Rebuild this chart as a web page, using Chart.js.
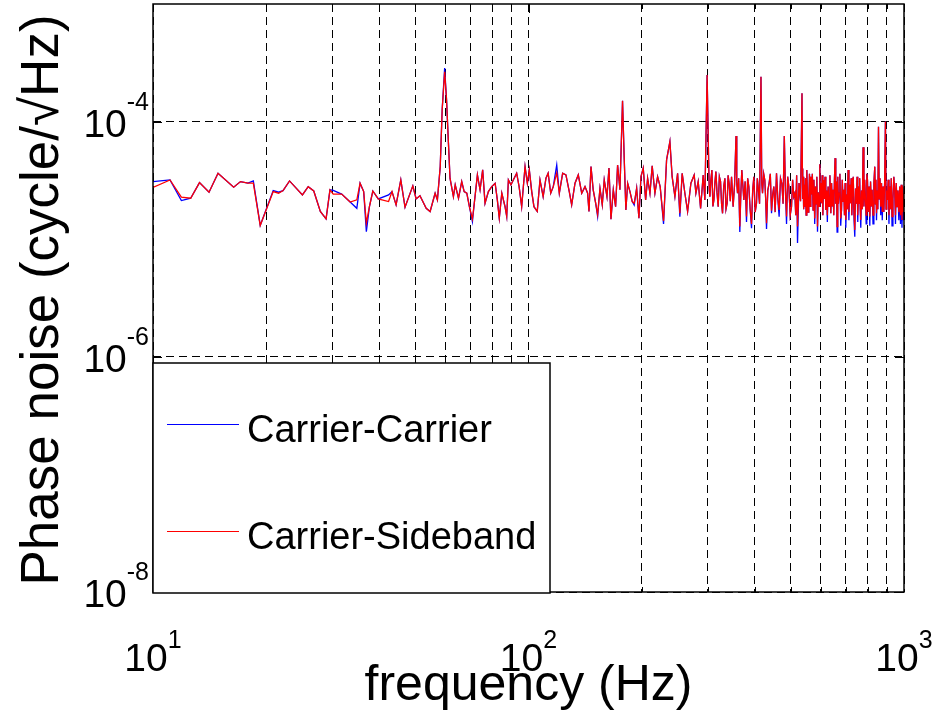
<!DOCTYPE html>
<html>
<head>
<meta charset="utf-8">
<script src="https://cdn.jsdelivr.net/npm/chart.js@4.4.1/dist/chart.umd.min.js"></script>
<style>
  html, body { margin: 0; padding: 0; background: #fff; }
  canvas { display: block; }
</style>
</head>
<body>
<canvas id="noiseChart" width="937" height="720"></canvas>
<script>
// frequency points (Hz)
const frequency = [
  10.0, 11.1, 11.9, 12.6, 13.3, 14.1, 14.9, 16.4, 17.1, 17.9,
  18.5, 19.3, 20.9, 21.6, 22.2, 23.1, 25.0, 25.9, 26.8, 27.9,
  28.9, 29.6, 30.2, 31.8, 33.5, 34.9, 35.6, 36.4, 37.0, 37.7,
  38.5, 39.8, 42.4, 43.3, 44.4, 45.7, 46.9, 49.2, 50.2, 51.4,
  53.4, 54.7, 56.4, 57.2, 58.2, 58.9, 59.8, 60.5, 61.2, 61.8,
  63.1, 63.8, 65.1, 66.4, 67.4, 68.5, 69.6, 70.9, 71.8, 73.1,
  74.3, 75.5, 76.6, 78.2, 79.8, 81.5, 82.6, 83.6, 84.9, 86.6,
  87.5, 88.4, 89.8, 91.1, 93.0, 94.4, 95.9, 97.9, 99.3, 100.5,
  102.0, 103.4, 105.5, 107.3, 109.4, 111.3, 112.8, 114.6, 116.4, 118.9,
  120.8, 123.3, 125.8, 128.4, 130.3, 133.0, 135.7, 138.6, 141.4, 143.7,
  144.9, 146.7, 148.7, 151.0, 152.8, 155.0, 157.2, 159.1, 161.8, 163.8,
  165.8, 168.2, 170.6, 172.7, 175.2, 178.0, 179.9, 181.7, 183.7, 186.3,
  188.9, 191.2, 194.1, 196.8, 199.3, 202.1, 205.1, 207.6, 210.6, 213.5,
  217.1, 220.7, 224.2, 228.9, 233.2, 238.0, 241.3, 245.4, 249.5, 253.0,
  256.6, 260.9, 265.3, 270.7, 276.2, 279.1, 283.1, 287.3, 291.9, 294.9,
  299.0, 302.0, 303.0, 304.1, 306.0, 307.9, 309.8, 311.7, 313.6, 315.5,
  317.7, 320.0, 322.3, 324.7, 326.7, 328.7, 331.0, 333.4, 335.7, 338.1,
  340.1, 342.2, 344.7, 347.3, 349.0, 350.7, 353.8, 357.0, 358.6, 360.3,
  362.8, 365.4, 367.6, 369.9, 372.2, 374.5, 377.6, 380.7, 383.4, 386.1,
  389.3, 392.6, 395.4, 398.2, 401.5, 404.8, 406.8, 408.8, 412.4, 416.0,
  418.0, 420.0, 423.0, 425.9, 428.2, 430.4, 433.8, 437.3, 440.5, 443.8,
  447.0, 450.1, 453.8, 457.6, 461.3, 465.0, 468.9, 472.8, 476.4, 480.0,
  483.3, 486.6, 490.0, 493.5, 497.6, 501.7, 505.1, 508.6, 512.0, 514.8,
  517.7, 520.5, 525.3, 530.2, 535.0, 536.2, 537.4, 538.6, 540.5, 542.4,
  544.3, 546.5, 548.8, 551.0, 553.3, 555.5, 557.8, 560.1, 562.4, 564.7,
  567.4, 570.0, 572.7, 575.5, 578.4, 581.2, 583.6, 586.0, 588.4, 591.2,
  594.0, 596.8, 598.9, 600.9, 603.0, 605.5, 608.0, 610.5, 613.4, 616.2,
  619.1, 622.0, 625.0, 627.9, 631.4, 634.9, 638.4, 641.4, 644.4, 647.4,
  650.1, 652.7, 655.4, 658.1, 660.8, 663.5, 666.2, 669.0, 671.7, 675.0,
  678.4, 681.7, 684.9, 688.1, 691.3, 694.2, 697.0, 699.9, 703.2, 706.5,
  709.8, 713.3, 716.8, 720.3, 723.3, 726.2, 729.2, 732.6, 736.1, 739.5,
  743.0, 746.5, 750.0, 753.1, 756.2, 759.3, 762.0, 764.6, 767.2, 770.8,
  774.5, 778.1, 782.0, 785.8, 789.7, 792.9, 796.2, 799.4, 803.2, 807.0,
  810.8, 814.6, 818.5, 822.3, 826.9, 831.4, 836.0, 838.9, 841.9, 844.8,
  848.3, 851.7, 855.2, 859.1, 863.1, 867.0, 871.1, 875.2, 879.3, 883.7,
  888.0, 892.4, 896.1, 899.7, 903.4, 907.7, 911.9, 916.2, 920.5, 924.9,
  929.2, 934.4, 939.5, 944.7, 949.1, 953.6, 958.0, 963.3, 968.7, 974.0,
  978.6, 983.2, 987.8, 992.5, 996.3, 1000
];

// phase noise, in units of 1e-5 cycle/sqrt(Hz)
const carrierCarrier = [
  3.09, 3.19, 2.13, 2.23, 3.03, 2.51, 3.64, 2.77, 3.09, 3.00,
  3.13, 1.31, 2.59, 2.51, 2.59, 3.13, 2.38, 2.80, 2.57, 1.72,
  1.49, 2.63, 2.60, 2.42, 2.07, 1.83, 2.99, 2.54, 1.16, 1.89,
  2.57, 2.20, 2.38, 2.54, 1.96, 3.19, 1.87, 2.84, 2.20, 2.34,
  1.83, 1.72, 2.46, 2.16, 4.14, 12.6, 28.5, 15.3, 6.59, 3.30,
  2.30, 2.90, 2.23, 3.09, 2.54, 2.46, 1.89, 1.41, 2.09, 3.52,
  2.63, 3.89, 2.02, 2.54, 2.80, 2.99, 2.16, 1.51, 2.46, 1.89,
  1.56, 3.19, 2.90, 3.19, 3.64, 2.80, 1.89, 4.14, 2.99, 3.89,
  2.54, 1.89, 1.72, 3.19, 2.30, 3.30, 3.64, 2.46, 2.80, 4.28,
  2.46, 3.64, 3.52, 2.54, 1.96, 2.99, 3.52, 2.46, 2.80, 2.46,
  1.72, 4.14, 2.63, 2.02, 1.56, 2.71, 1.96, 3.19, 2.30, 4.02,
  1.48, 2.63, 1.89, 4.28, 2.63, 15.0, 4.72, 1.77, 2.99, 2.54,
  2.09, 1.95, 2.71, 1.51, 3.40, 4.02, 2.16, 3.30, 2.46, 4.20,
  2.46, 3.40, 2.80, 1.35, 4.72, 6.76, 3.40, 2.30, 3.64, 1.55,
  3.64, 2.46, 1.72, 2.99, 3.52, 2.46, 3.09, 1.83, 3.52, 2.16,
  24.9, 4.14, 2.60, 2.30, 3.20, 3.88, 1.90, 2.16, 3.00, 3.76,
  2.50, 1.89, 3.40, 3.09, 2.00, 1.66, 2.80, 3.30, 1.80, 2.02,
  3.50, 2.99, 2.10, 3.40, 2.60, 1.89, 2.90, 7.55, 3.00, 2.46,
  3.30, 1.15, 2.40, 3.88, 2.90, 2.16, 3.10, 1.40, 3.30, 2.80,
  1.80, 1.24, 2.60, 3.40, 1.70, 2.02, 3.30, 2.80, 2.00, 24.1,
  3.00, 2.46, 3.60, 3.19, 2.20, 1.22, 2.60, 2.99, 3.60, 1.66,
  2.40, 2.80, 1.70, 3.64, 2.20, 1.55, 3.30, 2.99, 2.00, 7.55,
  2.60, 1.35, 3.40, 2.80, 1.60, 1.89, 3.20, 2.30, 2.46, 1.60,
  3.50, 0.93, 3.00, 2.10, 17.4, 4.00, 2.20, 3.40, 1.80, 2.90,
  1.89, 3.30, 1.60, 3.88, 2.30, 1.70, 2.16, 3.60, 1.90, 3.40,
  2.40, 3.60, 1.77, 3.20, 1.35, 2.80, 2.00, 3.40, 1.16, 2.50,
  1.90, 4.34, 2.10, 3.00, 2.02, 3.50, 1.60, 3.19, 2.20, 3.40,
  1.77, 2.60, 1.40, 2.80, 1.90, 3.50, 1.66, 3.00, 1.90, 2.63,
  1.60, 3.20, 4.89, 2.00, 3.10, 1.15, 3.40, 2.00, 2.46, 3.60,
  1.30, 1.77, 3.20, 2.10, 2.63, 1.60, 3.00, 1.25, 2.40, 1.80,
  3.88, 1.45, 2.90, 2.02, 3.30, 1.60, 2.63, 3.40, 1.45, 1.05,
  2.70, 2.00, 3.40, 1.40, 2.80, 2.02, 3.30, 1.80, 1.25, 2.60,
  1.80, 6.06, 1.90, 3.20, 2.16, 1.35, 3.60, 3.19, 1.70, 2.80,
  1.30, 3.10, 1.90, 2.63, 1.35, 3.00, 4.14, 2.00, 3.20, 1.45,
  2.60, 1.80, 9.02, 2.20, 3.30, 1.60, 3.00, 1.45, 2.80, 1.70,
  3.00, 10.0, 1.80, 2.60, 2.16, 3.20, 1.35, 2.80, 1.80, 3.30,
  1.30, 2.20, 3.40, 2.63, 1.35, 3.00, 1.89, 2.60, 1.45, 2.80,
  1.35, 2.90, 1.25, 2.80, 1.45, 2.46
];

const carrierSideband = [
  2.76, 3.19, 2.28, 2.23, 3.03, 2.51, 3.64, 2.77, 3.09, 3.00,
  3.00, 1.31, 2.54, 2.46, 2.59, 3.13, 2.38, 2.80, 2.57, 1.72,
  1.49, 2.63, 2.42, 2.42, 2.07, 2.16, 2.99, 2.54, 1.37, 1.89,
  2.57, 2.20, 2.09, 2.54, 1.96, 3.19, 1.87, 2.84, 2.20, 2.34,
  1.83, 1.72, 2.46, 2.16, 4.14, 12.6, 26.5, 15.3, 6.59, 3.30,
  2.30, 2.90, 2.23, 3.09, 2.54, 2.46, 1.89, 1.48, 2.09, 3.52,
  2.63, 3.89, 2.02, 2.54, 2.80, 2.99, 2.16, 1.51, 2.46, 1.89,
  1.56, 3.19, 2.90, 3.19, 3.64, 2.80, 1.89, 4.14, 2.99, 3.89,
  2.54, 1.89, 1.72, 3.19, 2.30, 3.30, 3.64, 2.46, 2.80, 3.66,
  2.46, 3.64, 3.52, 2.54, 1.96, 2.99, 3.52, 2.46, 2.80, 2.46,
  1.72, 4.14, 2.63, 2.02, 1.62, 2.71, 1.96, 3.19, 2.30, 4.02,
  1.48, 2.63, 1.89, 4.28, 2.63, 15.0, 4.72, 1.77, 2.99, 2.54,
  2.09, 2.02, 2.71, 1.51, 3.40, 4.02, 2.16, 3.30, 2.46, 4.20,
  2.46, 3.40, 2.80, 1.43, 4.72, 6.76, 3.40, 2.30, 3.64, 1.66,
  3.64, 2.46, 1.72, 2.99, 3.52, 2.46, 3.09, 1.83, 3.52, 2.16,
  24.9, 4.14, 2.60, 2.30, 3.20, 3.88, 1.90, 2.16, 3.00, 3.76,
  2.50, 1.89, 3.40, 3.09, 2.00, 1.66, 2.80, 3.30, 1.80, 2.02,
  3.50, 2.99, 2.10, 3.40, 2.60, 1.89, 2.90, 7.55, 3.00, 2.46,
  3.30, 1.28, 2.40, 3.88, 2.90, 2.16, 3.10, 1.56, 3.30, 2.80,
  1.80, 1.35, 2.60, 3.40, 1.70, 2.02, 3.30, 2.80, 2.00, 24.1,
  3.00, 2.46, 3.60, 3.19, 2.20, 1.37, 2.60, 2.99, 3.60, 1.75,
  2.40, 2.80, 1.70, 3.64, 2.20, 1.77, 3.30, 2.99, 2.00, 7.55,
  2.60, 1.56, 3.40, 2.80, 1.60, 1.89, 3.20, 2.30, 2.46, 1.60,
  3.50, 1.28, 3.00, 2.10, 17.4, 4.00, 2.20, 3.40, 1.80, 2.90,
  1.89, 3.30, 1.60, 3.88, 2.30, 1.70, 2.16, 3.60, 1.90, 3.40,
  2.40, 3.60, 1.77, 3.20, 1.50, 2.80, 2.00, 3.40, 1.28, 2.50,
  1.90, 4.34, 2.10, 3.00, 2.02, 3.50, 1.60, 3.19, 2.20, 3.40,
  1.77, 2.60, 1.60, 2.80, 1.90, 3.50, 1.66, 3.00, 1.90, 2.63,
  1.60, 3.20, 4.89, 2.00, 3.10, 1.28, 3.40, 2.00, 2.46, 3.60,
  1.50, 1.77, 3.20, 2.10, 2.63, 1.60, 3.00, 1.46, 2.40, 1.80,
  3.88, 1.70, 2.90, 2.02, 3.30, 1.60, 2.63, 3.40, 1.70, 1.20,
  2.70, 2.00, 3.40, 1.60, 2.80, 2.02, 3.30, 1.80, 1.46, 2.60,
  1.80, 6.06, 1.90, 3.20, 2.16, 1.60, 3.60, 3.19, 1.70, 2.80,
  1.56, 3.10, 1.90, 2.63, 1.60, 3.00, 4.14, 2.00, 3.20, 1.66,
  2.60, 1.80, 9.02, 2.20, 3.30, 1.89, 3.00, 1.70, 2.80, 1.70,
  3.00, 10.0, 1.80, 2.60, 2.16, 3.20, 1.60, 2.80, 1.80, 3.30,
  1.56, 2.20, 3.40, 2.63, 1.60, 3.00, 1.89, 2.60, 1.70, 2.80,
  1.60, 2.90, 1.46, 2.80, 1.70, 2.46
];
const noiseUnit = 1e-5;

const xGridValues = [10, 20, 30, 40, 50, 60, 70, 80, 90, 100,
                     200, 300, 400, 500, 600, 700, 800, 900, 1000];
const xTickValues = [10, 100, 1000];
const xTickExponents = ["1", "2", "3"];
const yTickValues = [1e-8, 1e-6, 1e-4];
const yTickExponents = ["-8", "-6", "-4"];

const FONT = "'Liberation Sans', Arial, Helvetica, sans-serif";

function toPoints(vals) {
  return frequency.map((f, i) => ({ x: f, y: vals[i] * noiseUnit }));
}

const decorations = {
  id: "decorations",
  afterDraw(chart) {
    const { ctx, chartArea: a, scales: { x, y } } = chart;
    ctx.save();

    // inward tick marks
    ctx.strokeStyle = "#000";
    ctx.lineWidth = 1;
    ctx.beginPath();
    xGridValues.forEach(v => {
      if (v === 10 || v === 1000) return;
      const px = Math.round(x.getPixelForValue(v)) + 0.5;
      const len = xTickValues.includes(v) ? 9 : 5;
      ctx.moveTo(px, a.bottom); ctx.lineTo(px, a.bottom - len);
      ctx.moveTo(px, a.top); ctx.lineTo(px, a.top + len);
    });
    yTickValues.forEach(v => {
      const py = Math.round(y.getPixelForValue(v)) + 0.5;
      ctx.moveTo(a.left, py); ctx.lineTo(a.left + 9, py);
      ctx.moveTo(a.right, py); ctx.lineTo(a.right - 9, py);
    });
    ctx.stroke();

    // axes box
    ctx.lineWidth = 1.5;
    ctx.strokeRect(a.left, a.top, a.right - a.left, a.bottom - a.top);

    // tick labels 10^n
    ctx.fillStyle = "#000";
    const baseFont = "39px " + FONT, expFont = "25px " + FONT;
    xTickValues.forEach((v, i) => {
      const px = x.getPixelForValue(v);
      ctx.font = baseFont;
      const wb = ctx.measureText("10").width;
      ctx.font = expFont;
      const we = ctx.measureText(xTickExponents[i]).width;
      const x0 = px - (wb + we) / 2;
      ctx.font = baseFont;
      ctx.textAlign = "left";
      ctx.fillText("10", x0, 671);
      ctx.font = expFont;
      ctx.fillText(xTickExponents[i], x0 + wb, 648);
    });
    yTickValues.forEach((v, i) => {
      const py = y.getPixelForValue(v);
      ctx.font = expFont;
      const we = ctx.measureText(yTickExponents[i]).width;
      ctx.textAlign = "right";
      ctx.fillText(yTickExponents[i], 149, py - 12);
      ctx.font = baseFont;
      ctx.fillText("10", 149 - we, py + 15);
    });

    // axis titles
    ctx.font = "50px " + FONT;
    ctx.textAlign = "center";
    ctx.fillText("frequency (Hz)", (a.left + a.right) / 2, 700);
    ctx.save();
    ctx.translate(58, 300);
    ctx.rotate(-Math.PI / 2);
    ctx.font = "53px " + FONT;
    ctx.fillText("Phase noise (cycle/\u221AHz)", 0, 0);
    ctx.restore();

    // legend box
    const lg = { left: 153, top: 363, right: 550, bottom: 593 };
    ctx.fillStyle = "#fff";
    ctx.fillRect(lg.left, lg.top, lg.right - lg.left, lg.bottom - lg.top);
    ctx.strokeStyle = "#000";
    ctx.lineWidth = 1.5;
    ctx.strokeRect(lg.left, lg.top, lg.right - lg.left, lg.bottom - lg.top);
    const rows = [424.5, 531.5];
    chart.data.datasets.forEach((ds, i) => {
      ctx.strokeStyle = ds.borderColor;
      ctx.lineWidth = 1.2;
      ctx.beginPath();
      ctx.moveTo(167, rows[i]); ctx.lineTo(239, rows[i]);
      ctx.stroke();
      ctx.fillStyle = "#000";
      ctx.font = "38px " + FONT;
      ctx.textAlign = "left";
      ctx.fillText(ds.label, 247, rows[i] + 17);
    });
    ctx.restore();
  }
};

const ctxNoise = document.getElementById("noiseChart").getContext("2d");

const noiseChart = new Chart(ctxNoise, {
  type: "line",
  data: {
    datasets: [
      {
        label: "Carrier-Carrier",
        data: toPoints(carrierCarrier),
        borderColor: "#0000ff",
        borderWidth: 1.3,
        pointRadius: 0,
        tension: 0,
        order: 1,
      },
      {
        label: "Carrier-Sideband",
        data: toPoints(carrierSideband),
        borderColor: "#ff0000",
        borderWidth: 1.3,
        pointRadius: 0,
        tension: 0,
        order: 0,
      },
    ],
  },
  options: {
    responsive: false,
    animation: false,
    devicePixelRatio: 1,
    layout: { padding: { left: 153, top: 4, right: 33, bottom: 128 } },
    plugins: {
      legend: { display: false },
      tooltip: { enabled: false },
    },
    scales: {
      x: {
        type: "logarithmic",
        min: 10,
        max: 1000,
        afterBuildTicks: s => { s.ticks = xGridValues.map(v => ({ value: v })); },
        ticks: { display: false },
        grid: { color: "#000", lineWidth: 1, drawTicks: false },
        border: { display: false, dash: [8, 5] },
      },
      y: {
        type: "logarithmic",
        min: 1e-8,
        max: 1e-3,
        afterBuildTicks: s => { s.ticks = yTickValues.map(v => ({ value: v })); },
        ticks: { display: false },
        grid: { color: "#000", lineWidth: 1, drawTicks: false },
        border: { display: false, dash: [8, 5] },
      },
    },
  },
  plugins: [decorations],
});
</script>
</body>
</html>
